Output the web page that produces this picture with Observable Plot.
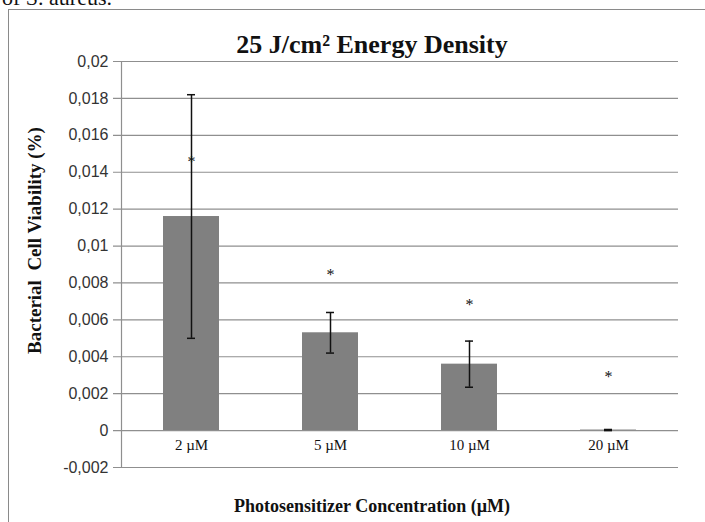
<!DOCTYPE html>
<html>
<head>
<meta charset="utf-8">
<script src="https://cdn.jsdelivr.net/npm/d3@7"></script>
<script src="https://cdn.jsdelivr.net/npm/@observablehq/plot@0.6"></script>
<style>
  html, body { margin: 0; padding: 0; background: #fff; }
  #wrap { position: relative; width: 705px; height: 522px; overflow: hidden; }
  #box { position: absolute; left: 8px; top: 9px; width: 720px; height: 540px; border-left: 1.5px solid #8a8a8a; border-top: 1.5px solid #8a8a8a; }
  #above { position: absolute; left: 2px; top: -15px; font: 22px "Liberation Serif", serif; color: #111; white-space: nowrap; }
  #chart { position: absolute; left: 0; top: 0; }
</style>
</head>
<body>
<div id="wrap">
  <div id="above">of S. aureus.</div>
  <div id="box"></div>
  <div id="chart"></div>
</div>
<script>
const categories = ["2 µM", "5 µM", "10 µM", "20 µM"];
const viability = [0.0116, 0.0053, 0.0036, 0.00003];
const errors = [0.0066, 0.0011, 0.00125, 0.00003];
const stars = [0.0147, 0.0086, 0.0070, 0.0031];
const yTicks = [-0.002, 0, 0.002, 0.004, 0.006, 0.008, 0.01, 0.012, 0.014, 0.016, 0.018, 0.02];
const yTickLabels = ["-0,002", "0", "0,002", "0,004", "0,006", "0,008", "0,01", "0,012", "0,014", "0,016", "0,018", "0,02"];
const title = "25 J/cm² Energy Density";
const xTitle = "Photosensitizer Concentration (µM)";
const yTitle = "Bacterial  Cell Viability (%)";

const data = categories.map((c, i) => ({
  cat: c, v: viability[i], lo: viability[i] - errors[i], hi: viability[i] + errors[i], star: stars[i]
}));
const labelOf = new Map(yTicks.map((t, i) => [t, yTickLabels[i]]));

const chart = Plot.plot({
  width: 705,
  height: 522,
  marginTop: 61,
  marginBottom: 55,
  marginLeft: 121,
  marginRight: 27,
  style: { background: "transparent", overflow: "visible" },
  x: { domain: categories, paddingInner: 0.6, paddingOuter: 0.3, axis: null },
  y: { domain: [-0.002, 0.02], axis: null },
  marks: [
    Plot.ruleY(yTicks, { y: d => d, stroke: "#8f8f8f", strokeWidth: 1.2, insetLeft: -8 }),
    Plot.frame({ anchor: "left", stroke: "#8f8f8f", strokeWidth: 1.2 }),
    Plot.text(yTicks, { y: d => d, text: d => labelOf.get(d), frameAnchor: "left", textAnchor: "end", dx: -13,
      fontFamily: "Liberation Sans, sans-serif", fontSize: 16, fill: "#333" }),
    Plot.barY(data, { x: "cat", y1: 0, y2: "v", fill: "#808080" }),
    Plot.ruleX(data, { x: "cat", y1: "lo", y2: "hi", stroke: "#111", strokeWidth: 1.5 }),
    Plot.tickY(data, { x: "cat", y: "lo", stroke: "#111", strokeWidth: 1.5, insetLeft: 24, insetRight: 24 }),
    Plot.tickY(data, { x: "cat", y: "hi", stroke: "#111", strokeWidth: 1.5, insetLeft: 24, insetRight: 24 }),
    Plot.text(data, { x: "cat", y: "star", text: () => "*", fontFamily: "Liberation Serif, serif", fontSize: 16, fill: "#111", dy: 3 }),
    Plot.text(categories, { x: d => d, y: 0, text: d => d, dy: 15, fontFamily: "Liberation Serif, serif", fontSize: 15, fill: "#111" }),
    Plot.text([title], { frameAnchor: "top", text: d => d, textAnchor: "middle", lineAnchor: "bottom", dx: -28, dy: -9, fontFamily: "Liberation Serif, serif", fontWeight: "bold", fontSize: 26, fill: "#111" }),
    Plot.text([xTitle], { frameAnchor: "bottom", text: d => d, textAnchor: "middle", lineAnchor: "bottom", dx: -28, dy: 44, fontFamily: "Liberation Serif, serif", fontWeight: "bold", fontSize: 18, fill: "#111" }),
    Plot.text([yTitle], { frameAnchor: "left", text: d => d, textAnchor: "middle", lineAnchor: "middle", rotate: -90, dx: -87, dy: -24, fontFamily: "Liberation Serif, serif", fontWeight: "bold", fontSize: 19, fill: "#111" })
  ]
});
document.getElementById("chart").appendChild(chart);
</script>
</body>
</html>
